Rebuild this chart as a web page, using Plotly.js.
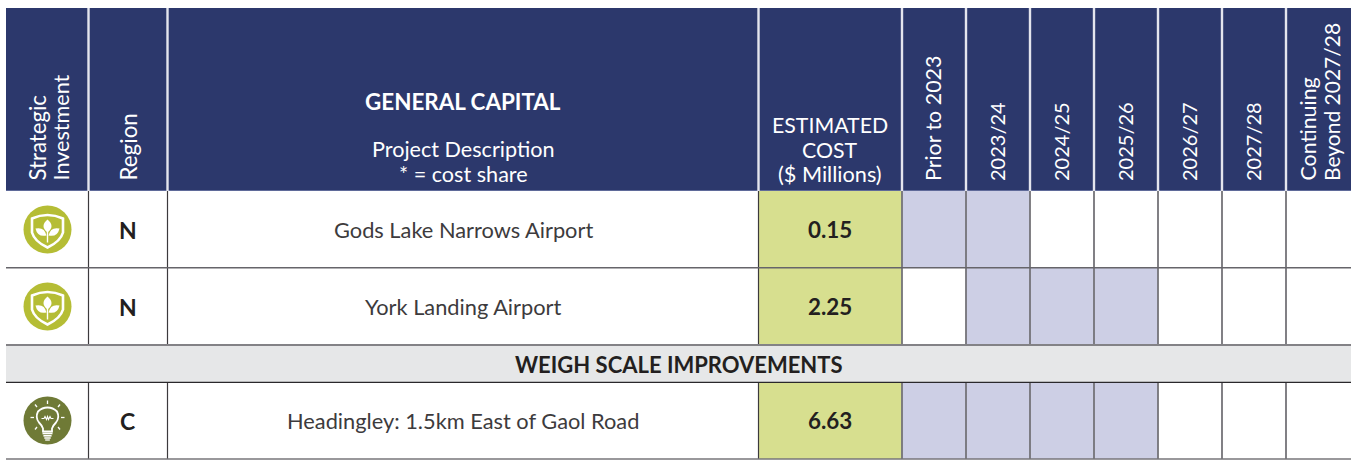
<!DOCTYPE html>
<html><head><meta charset="utf-8">
<script src="https://cdn.plot.ly/plotly-3.0.1.min.js"></script>
<style>html,body{margin:0;padding:0;background:#fff}#c{width:1355px;height:460px}</style></head>
<body><div id="c"></div>
<script>
const FONT = 'Lato, "Open Sans", sans-serif';
const NAVY = '#2c386c', LILAC = '#cdcfe5', LIME = '#d7df8f', BAND = '#e6e7e8', TXT = '#231f20', BODY = '#3d3b3d';
const columnEdges = [6, 88.5, 167.5, 758.5, 902, 966, 1030, 1094, 1158, 1222, 1286, 1351];
const yearLabels = ['Prior to 2023', '2023/24', '2024/25', '2025/26', '2026/27', '2027/28'];
const yearSizes = [21.4, 20, 20, 20, 20, 20];
const lastColumnLines = ['Continuing', 'Beyond 2027/28'];
const projects = ['Gods Lake Narrows Airport', 'York Landing Airport', 'Headingley: 1.5km East of Gaol Road'];
const regions = ['N', 'N', 'C'];
const costs = ['0.15', '2.25', '6.63'];
const iconKinds = ['shield', 'shield', 'bulb'];
const schedule = [
  [1, 1, 0, 0, 0, 0, 0],
  [0, 1, 1, 1, 0, 0, 0],
  [1, 1, 1, 1, 0, 0, 0]
];
const rowSpans = [[191, 268], [268, 345], [382, 459]];
const bandSpan = [345, 382];
const bandLabel = 'WEIGH SCALE IMPROVEMENTS';
const HEAD_TOP = 8, HEAD_BOTTOM = 191, X0 = columnEdges[0], X1 = columnEdges[columnEdges.length - 1];

const shapes = [];
const annotations = [];
function rect(x0, y0, x1, y1, fill) {
  shapes.push({type: 'rect', xref: 'x', yref: 'y', x0, y0, x1, y1, fillcolor: fill, line: {width: 0}, layer: 'below'});
}
function line(x0, y0, x1, y1, color, width) {
  shapes.push({type: 'line', xref: 'x', yref: 'y', x0, y0, x1, y1, line: {color, width}, layer: 'below'});
}
function text(t, x, y, size, color, opts) {
  annotations.push(Object.assign({
    text: t, x, y, xref: 'x', yref: 'y', showarrow: false,
    font: {family: FONT, size, color: color || TXT}, xanchor: 'center', yanchor: 'middle', borderpad: 0, borderwidth: 0
  }, opts || {}));
}
function pathAt(cx, cy, pts, fill, stroke, sw) {
  const d = pts.map(s => typeof s === 'string' ? s : (cx + s[0]).toFixed(2) + ',' + (cy + s[1]).toFixed(2)).join(' ');
  shapes.push({type: 'path', xref: 'x', yref: 'y', path: d, fillcolor: fill || 'rgba(0,0,0,0)',
    line: {color: stroke || 'rgba(0,0,0,0)', width: stroke ? sw : 0}, layer: 'above'});
}
function circle(cx, cy, r, fill, stroke, sw) {
  shapes.push({type: 'circle', xref: 'x', yref: 'y', x0: cx - r, x1: cx + r, y0: cy - r, y1: cy + r,
    fillcolor: fill || 'rgba(0,0,0,0)', line: {color: stroke || 'rgba(0,0,0,0)', width: stroke ? sw : 0}, layer: 'above'});
}
function leaf(cx, cy, tip, base, w) {
  const mx = (tip[0] + base[0]) / 2, my = (tip[1] + base[1]) / 2;
  const dx = tip[0] - base[0], dy = tip[1] - base[1], L = Math.hypot(dx, dy);
  const nx = -dy / L * w, ny = dx / L * w;
  pathAt(cx, cy, ['M', base, 'Q', [mx + nx, my + ny], tip, 'Q', [mx - nx, my - ny], base, 'Z'], '#fff');
}
function shieldIcon(cx, cy) {
  circle(cx, cy, 24, '#b5bd35');
  pathAt(cx, cy, ['M', [-15.5, -11], 'Q', [0, -18], [15.5, -11], 'L', [15.5, 3], 'Q', [13, 12], [0, 18], 'Q', [-13, 12], [-15.5, 3], 'Z'], null, '#fff', 2.6);
  leaf(cx, cy, [0, -10], [0, 3], 8);
  leaf(cx, cy, [-12, -1], [-1, 6], 6.5);
  leaf(cx, cy, [12, -1], [1, 6], 6.5);
  pathAt(cx, cy, ['M', [0, 2], 'L', [0, 13]], null, '#fff', 1.4);
}
function bulbIcon(cx, cy) {
  circle(cx, cy, 24, '#6f7a36');
  pathAt(cx, cy, ['M', [-4.5, 11], 'L', [-4.5, 8], 'Q', [-5.5, 5], [-8.5, 2], 'Q', [-12.5, -3], [-9.5, -9], 'Q', [-5.5, -13], [0, -13], 'Q', [5.5, -13], [9.5, -9], 'Q', [12.5, -3], [8.5, 2], 'Q', [5.5, 5], [4.5, 8], 'L', [4.5, 11], 'Z'], null, '#fff', 1.8);
  pathAt(cx, cy, ['M', [-6, -2], 'L', [-3.5, -2], 'L', [-2.5, -4], 'L', [-1, -1], 'L', [0, -4], 'L', [1, -1], 'L', [2.5, -4], 'L', [3.5, -2], 'L', [6, -2]], null, '#fff', 1.1);
  [[13, 1.7], [15.3, 1.6], [17.5, 1.5], [19.5, 1.3]].forEach((b, i) => {
    const hw = 5 - i * 0.9;
    pathAt(cx, cy, ['M', [-hw, b[0]], 'L', [hw, b[0]]], null, '#fff', b[1]);
  });
  [[0, -20, 0, -16.5], [-12.5, -16, -10.5, -13.5], [12.5, -16, 10.5, -13.5], [-17, -3, -13.5, -3], [17, -3, 13.5, -3], [-12.5, 9, -10.5, 6.5], [12.5, 9, 10.5, 6.5]].forEach(s => {
    pathAt(cx, cy, ['M', [s[0], s[1]], 'L', [s[2], s[3]]], null, '#fff', 1.3);
  });
}

// header
rect(X0, HEAD_TOP, X1, HEAD_BOTTOM, NAVY);
line(X0, HEAD_BOTTOM - 0.5, X1, HEAD_BOTTOM - 0.5, '#5f6a99', 1);
columnEdges.slice(1, -1).forEach(x => line(x, HEAD_TOP, x, HEAD_BOTTOM, '#e4e5ee', 2.4));

// body fills
rowSpans.forEach((r, i) => {
  rect(columnEdges[3], r[0], columnEdges[4], r[1], LIME);
  schedule[i].forEach((on, j) => { if (on) rect(columnEdges[4 + j], r[0], columnEdges[5 + j], r[1], LILAC); });
});
rect(X0, bandSpan[0], X1, bandSpan[1], BAND);

// body grid
rowSpans.forEach(r => {
  columnEdges.slice(1, 4).forEach(x => line(x, r[0], x, r[1], '#3c3a3d', 1.2));
  columnEdges.slice(4, -1).forEach(x => line(x, r[0], x, r[1], '#747378', 1.8));
});
line(X0, 267.7, X1, 267.7, '#66656a', 1.4);
line(X0, 345, X1, 345, '#838286', 2);
line(X0, 382.3, X1, 382.3, '#2a282b', 1.3);
line(X0, 459, X1, 459, '#77767a', 1.6);

// header text
function vhead(t, cx, size) {
  text(t, cx, 181, size, '#fff', {textangle: -90, yanchor: 'bottom'});
}
vhead('Strategic', 36.5, 22.2);
vhead('Investment', 60.5, 21.6);
vhead('Region', 128, 22.4);
yearLabels.forEach((l, j) => vhead(l, (columnEdges[4 + j] + columnEdges[5 + j]) / 2 - 1.5, yearSizes[j]));
vhead(lastColumnLines[0], 1307, 21.4);
vhead(lastColumnLines[1], 1331, 21);
const hc = (columnEdges[2] + columnEdges[3]) / 2, cc = (columnEdges[3] + columnEdges[4]) / 2;
text('<b>GENERAL CAPITAL</b>', hc, 101.5, 22.4, '#fff');
text('Project Description', hc, 149, 21.6, '#fff');
text('* = cost share', hc, 174, 21.6, '#fff');
text('ESTIMATED', cc, 125, 21.3, '#fff');
text('COST', cc, 149.5, 21.3, '#fff');
text('($ Millions)', cc, 174, 21.7, '#fff');

// rows
rowSpans.forEach((r, i) => {
  const cy = (r[0] + r[1]) / 2;
  text('<b>' + regions[i] + '</b>', 127.5, cy, 23);
  text(projects[i], hc, cy, 21.8, BODY);
  text('<b>' + costs[i] + '</b>', cc, cy, 22.4);
  (iconKinds[i] === 'shield' ? shieldIcon : bulbIcon)(47.5, cy);
});
text('<b>' + bandLabel + '</b>', (X0 + X1) / 2, (bandSpan[0] + bandSpan[1]) / 2 + 0.5, 22);

const data = [{type: 'scatter', x: [X0, X1], y: [HEAD_TOP, 459], mode: 'none', hoverinfo: 'skip', showlegend: false}];
const layout = {
  width: 1355, height: 460, margin: {l: 0, r: 0, t: 0, b: 0},
  paper_bgcolor: '#fff', plot_bgcolor: '#fff', showlegend: false,
  xaxis: {range: [0, 1355], visible: false, fixedrange: true},
  yaxis: {range: [460, 0], visible: false, fixedrange: true},
  shapes, annotations
};
Plotly.newPlot('c', data, layout, {displayModeBar: false, staticPlot: true});
</script></body></html>
